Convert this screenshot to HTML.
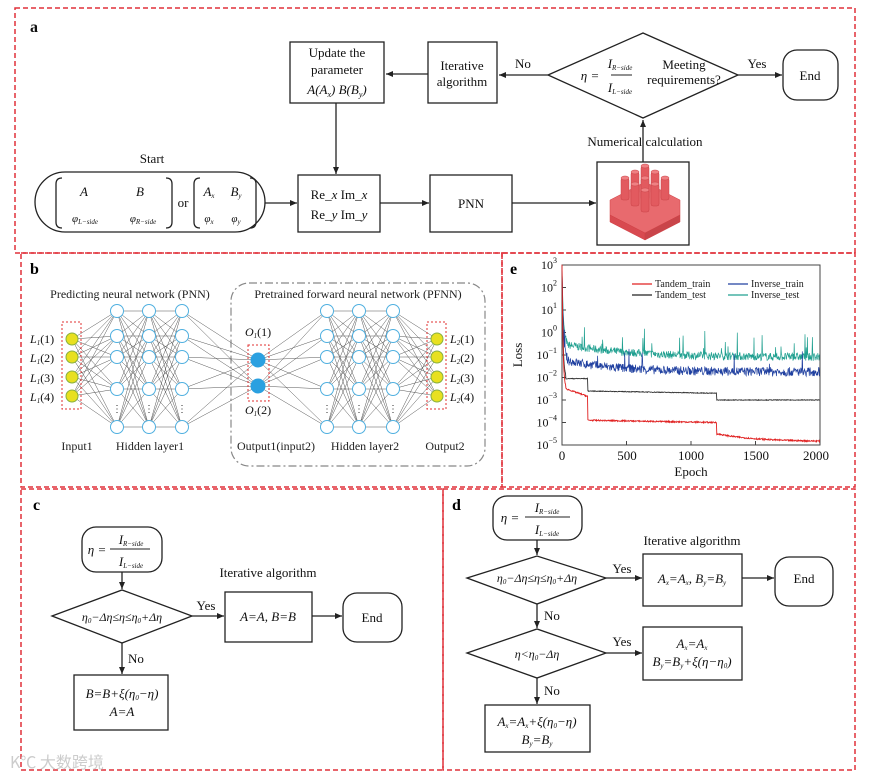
<!DOCTYPE html>
<html><head><meta charset="utf-8">
<style>
html,body{margin:0;padding:0;background:#fff;}
svg{display:block;font-family:"Liberation Serif",serif;}
</style></head>
<body>
<svg id="s" width="875" height="780" viewBox="0 0 875 780" xmlns="http://www.w3.org/2000/svg">
<defs>
<marker id="ar" markerWidth="8" markerHeight="8" refX="7" refY="4" orient="auto" markerUnits="userSpaceOnUse">
<path d="M0,1 L7,4 L0,7 z" fill="#222"/></marker>
</defs>
<g fill="none" stroke="#e0303a" stroke-width="1.5" stroke-dasharray="5,3">
<rect x="15" y="8" width="840" height="245"/>
<rect x="21" y="253" width="481" height="234"/>
<rect x="502" y="253" width="353" height="234"/>
<rect x="21" y="489" width="422" height="281"/>
<rect x="443" y="489" width="412" height="281"/>
</g>

<!-- Panel a -->
<g font-size="13" fill="#111">
<text x="30" y="32" font-weight="bold" font-size="16">a</text>
</g>
<g fill="none" stroke="#222" stroke-width="1.3">
<rect x="290" y="42" width="94" height="61"/>
<rect x="428" y="42" width="69" height="61"/>
<path d="M548,75 L643,33 L738,75 L643,118 Z"/>
<rect x="783" y="50" width="55" height="50" rx="14"/>
<rect x="597" y="162" width="92" height="83"/>
<rect x="35" y="172" width="230" height="60" rx="30"/>
<rect x="298" y="175" width="82" height="57"/>
<rect x="430" y="175" width="82" height="57"/>
<line x1="428" y1="74" x2="386" y2="74" marker-end="url(#ar)"/>
<line x1="548" y1="75" x2="499" y2="75" marker-end="url(#ar)"/>
<line x1="738" y1="75" x2="782" y2="75" marker-end="url(#ar)"/>
<line x1="643" y1="162" x2="643" y2="120" marker-end="url(#ar)"/>
<line x1="336" y1="103" x2="336" y2="174" marker-end="url(#ar)"/>
<line x1="265" y1="203" x2="297" y2="203" marker-end="url(#ar)"/>
<line x1="380" y1="203" x2="429" y2="203" marker-end="url(#ar)"/>
<line x1="512" y1="203" x2="596" y2="203" marker-end="url(#ar)"/>
<!-- matrix brackets -->
<path d="M62,178 q-6,0 -6,6 v38 q0,6 6,6" />
<path d="M166,178 q6,0 6,6 v38 q0,6 -6,6" />
<path d="M200,178 q-6,0 -6,6 v38 q0,6 6,6" />
<path d="M250,178 q6,0 6,6 v38 q0,6 -6,6" />
</g>
<g font-size="13" fill="#111" text-anchor="middle">
<text x="337" y="57">Update the</text>
<text x="337" y="74">parameter</text>
<text x="337" y="94" font-style="italic">A(A<tspan font-size="8" dy="3">x</tspan><tspan dy="-3">) B(B</tspan><tspan font-size="8" dy="3">y</tspan><tspan dy="-3">)</tspan></text>
<text x="462" y="70">Iterative</text>
<text x="462" y="86">algorithm</text>
<text x="523" y="68">No</text>
<text x="757" y="68">Yes</text>
<text x="810" y="80">End</text>
<text x="590" y="80" font-style="italic">η =</text>
<text x="620" y="68" font-style="italic">I<tspan font-size="7" dy="2">R−side</tspan></text>
<text x="620" y="92" font-style="italic">I<tspan font-size="7" dy="2">L−side</tspan></text>
<text x="684" y="69">Meeting</text>
<text x="684" y="84">requirements?</text>
<text x="645" y="146">Numerical calculation</text>
<text x="152" y="163">Start</text>
<text x="84" y="196" font-style="italic">A</text>
<text x="140" y="196" font-style="italic">B</text>
<text x="85" y="222" font-style="italic" font-size="11">φ<tspan font-size="7" dy="2">L−side</tspan></text>
<text x="143" y="222" font-style="italic" font-size="11">φ<tspan font-size="7" dy="2">R−side</tspan></text>
<text x="183" y="207">or</text>
<text x="209" y="196" font-style="italic">A<tspan font-size="7" dy="2">x</tspan></text>
<text x="236" y="196" font-style="italic">B<tspan font-size="7" dy="2">y</tspan></text>
<text x="209" y="222" font-style="italic" font-size="11">φ<tspan font-size="7" dy="2">x</tspan></text>
<text x="236" y="222" font-style="italic" font-size="11">φ<tspan font-size="7" dy="2">y</tspan></text>
<text x="339" y="199">Re_<tspan font-style="italic">x</tspan> Im_<tspan font-style="italic">x</tspan></text>
<text x="339" y="219">Re_<tspan font-style="italic">y</tspan> Im_<tspan font-style="italic">y</tspan></text>
<text x="471" y="208">PNN</text>
</g>
<line x1="611" y1="75" x2="632" y2="75" stroke="#222"/>
<!-- 3D red block -->
<g fill="#e0555a" stroke="#d04045" stroke-width="0.5">
<path d="M610,200 L645,182 L680,200 L680,215 L645,233 L610,215 Z" fill="#e86a6e"/>
<path d="M610,215 L645,233 L645,240 L610,222 Z" fill="#d84a50"/>
<path d="M645,233 L680,215 L680,222 L645,240 Z" fill="#c9454a"/>
</g>
<g id="pillars" fill="#e25a5f" stroke="#c94348" stroke-width="0.5"></g>

<!-- Panel b -->
<text x="30" y="274" font-weight="bold" font-size="16">b</text>
<rect x="231" y="283" width="254" height="183" rx="18" fill="none" stroke="#888" stroke-width="1.2" stroke-dasharray="8,3,2,3"/>
<g font-size="12" fill="#222" text-anchor="middle">
<text x="130" y="298">Predicting neural network (PNN)</text>
<text x="358" y="298">Pretrained forward neural network (PFNN)</text>
<text x="77" y="450">Input1</text>
<text x="150" y="450">Hidden layer1</text>
<text x="276" y="450">Output1(input2)</text>
<text x="365" y="450">Hidden layer2</text>
<text x="445" y="450">Output2</text>
</g>
<g id="nn"></g>
<g fill="none" stroke="#e03030" stroke-width="1" stroke-dasharray="2,2">
<rect x="62" y="322" width="19" height="87"/>
<rect x="248" y="345" width="21" height="56"/>
<rect x="427" y="322" width="19" height="87"/>
</g>
<g font-size="12" fill="#111" font-style="italic">
<text x="30" y="343">L<tspan font-size="7" dy="2">1</tspan><tspan dy="-2" font-style="normal">(1)</tspan></text>
<text x="30" y="362">L<tspan font-size="7" dy="2">1</tspan><tspan dy="-2" font-style="normal">(2)</tspan></text>
<text x="30" y="382">L<tspan font-size="7" dy="2">1</tspan><tspan dy="-2" font-style="normal">(3)</tspan></text>
<text x="30" y="401">L<tspan font-size="7" dy="2">1</tspan><tspan dy="-2" font-style="normal">(4)</tspan></text>
<text x="450" y="343">L<tspan font-size="7" dy="2">2</tspan><tspan dy="-2" font-style="normal">(1)</tspan></text>
<text x="450" y="362">L<tspan font-size="7" dy="2">2</tspan><tspan dy="-2" font-style="normal">(2)</tspan></text>
<text x="450" y="382">L<tspan font-size="7" dy="2">2</tspan><tspan dy="-2" font-style="normal">(3)</tspan></text>
<text x="450" y="401">L<tspan font-size="7" dy="2">2</tspan><tspan dy="-2" font-style="normal">(4)</tspan></text>
<text x="245" y="336">O<tspan font-size="7" dy="2">1</tspan><tspan dy="-2" font-style="normal">(1)</tspan></text>
<text x="245" y="414">O<tspan font-size="7" dy="2">1</tspan><tspan dy="-2" font-style="normal">(2)</tspan></text>
</g>

<!-- Panel e -->
<text x="510" y="274" font-weight="bold" font-size="16">e</text>
<rect x="562" y="265" width="258" height="180" fill="none" stroke="#444" stroke-width="1"/>
<g id="plot"></g>
<g font-size="12" fill="#111" text-anchor="end" id="ylab"></g>
<g font-size="13" fill="#111" text-anchor="middle">
<text x="562" y="460">0</text><text x="627" y="460">500</text><text x="691" y="460">1000</text><text x="756" y="460">1500</text><text x="816" y="460">2000</text>
<text x="691" y="476">Epoch</text>
<text transform="translate(522,355) rotate(-90)">Loss</text>
</g>
<g font-size="10" fill="#222">
<line x1="632" y1="284" x2="652" y2="284" stroke="#e02020" stroke-width="1.3"/><text x="655" y="287">Tandem_train</text>
<line x1="632" y1="295" x2="652" y2="295" stroke="#222" stroke-width="1.3"/><text x="655" y="298">Tandem_test</text>
<line x1="728" y1="284" x2="748" y2="284" stroke="#2040a0" stroke-width="1.3"/><text x="751" y="287">Inverse_train</text>
<line x1="728" y1="295" x2="748" y2="295" stroke="#20a090" stroke-width="1.3"/><text x="751" y="298">Inverse_test</text>
</g>

<!-- Panel c -->
<text x="33" y="510" font-weight="bold" font-size="16">c</text>
<g fill="none" stroke="#222" stroke-width="1.3">
<rect x="82" y="527" width="80" height="45" rx="14"/>
<path d="M52,616 L122,590 L192,616 L122,643 Z"/>
<rect x="225" y="592" width="87" height="50"/>
<rect x="343" y="593" width="59" height="49" rx="14"/>
<rect x="74" y="675" width="94" height="55"/>
<line x1="122" y1="572" x2="122" y2="589" marker-end="url(#ar)"/>
<line x1="192" y1="616" x2="224" y2="616" marker-end="url(#ar)"/>
<line x1="312" y1="616" x2="342" y2="616" marker-end="url(#ar)"/>
<line x1="122" y1="643" x2="122" y2="674" marker-end="url(#ar)"/>
<line x1="110" y1="549" x2="150" y2="549" stroke-width="1"/>
</g>
<g font-size="13" fill="#111" text-anchor="middle" font-style="italic">
<text x="97" y="554">η =</text>
<text x="131" y="544">I<tspan font-size="7" dy="2">R−side</tspan></text>
<text x="131" y="566">I<tspan font-size="7" dy="2">L−side</tspan></text>
<text x="122" y="621" font-size="12">η<tspan font-size="7" dy="2">0</tspan><tspan dy="-2">−Δη≤η≤η</tspan><tspan font-size="7" dy="2">0</tspan><tspan dy="-2">+Δη</tspan></text>
<text x="268" y="621">A=A, B=B</text>
<text x="122" y="698">B=B+ξ(η<tspan font-size="7" dy="2">0</tspan><tspan dy="-2">−η)</tspan></text>
<text x="122" y="716">A=A</text>
</g>
<g font-size="13" fill="#111" text-anchor="middle">
<text x="206" y="610">Yes</text>
<text x="372" y="622">End</text>
<text x="268" y="577">Iterative algorithm</text>
<text x="136" y="663">No</text>
</g>
<text x="10" y="768" font-family="'Noto Sans CJK SC',sans-serif" font-size="16" fill="#ccc">K℃ 大数跨境</text>

<!-- Panel d -->
<text x="452" y="510" font-weight="bold" font-size="16">d</text>
<g fill="none" stroke="#222" stroke-width="1.3">
<rect x="493" y="496" width="89" height="44" rx="14"/>
<path d="M467,578 L537,556 L606,578 L537,604 Z"/>
<rect x="643" y="554" width="99" height="52"/>
<rect x="775" y="557" width="58" height="49" rx="14"/>
<path d="M467,653 L537,629 L606,653 L537,678 Z"/>
<rect x="643" y="627" width="99" height="53"/>
<rect x="485" y="705" width="105" height="47"/>
<line x1="537" y1="540" x2="537" y2="555" marker-end="url(#ar)"/>
<line x1="606" y1="578" x2="642" y2="578" marker-end="url(#ar)"/>
<line x1="742" y1="578" x2="774" y2="578" marker-end="url(#ar)"/>
<line x1="537" y1="604" x2="537" y2="628" marker-end="url(#ar)"/>
<line x1="606" y1="653" x2="642" y2="653" marker-end="url(#ar)"/>
<line x1="537" y1="678" x2="537" y2="704" marker-end="url(#ar)"/>
<line x1="525" y1="517" x2="570" y2="517" stroke-width="1"/>
</g>
<g font-size="13" fill="#111" text-anchor="middle" font-style="italic">
<text x="510" y="522">η =</text>
<text x="547" y="512">I<tspan font-size="7" dy="2">R−side</tspan></text>
<text x="547" y="534">I<tspan font-size="7" dy="2">L−side</tspan></text>
<text x="537" y="582" font-size="12">η<tspan font-size="7" dy="2">0</tspan><tspan dy="-2">−Δη≤η≤η</tspan><tspan font-size="7" dy="2">0</tspan><tspan dy="-2">+Δη</tspan></text>
<text x="692" y="583">A<tspan font-size="7" dy="2">x</tspan><tspan dy="-2">=A</tspan><tspan font-size="7" dy="2">x</tspan><tspan dy="-2">, B</tspan><tspan font-size="7" dy="2">y</tspan><tspan dy="-2">=B</tspan><tspan font-size="7" dy="2">y</tspan></text>
<text x="537" y="658" font-size="12">η&lt;η<tspan font-size="7" dy="2">0</tspan><tspan dy="-2">−Δη</tspan></text>
<text x="692" y="648">A<tspan font-size="7" dy="2">x</tspan><tspan dy="-2">=A</tspan><tspan font-size="7" dy="2">x</tspan></text>
<text x="692" y="666">B<tspan font-size="7" dy="2">y</tspan><tspan dy="-2">=B</tspan><tspan font-size="7" dy="2">y</tspan><tspan dy="-2">+ξ(η−η</tspan><tspan font-size="7" dy="2">0</tspan><tspan dy="-2">)</tspan></text>
<text x="537" y="726">A<tspan font-size="7" dy="2">x</tspan><tspan dy="-2">=A</tspan><tspan font-size="7" dy="2">x</tspan><tspan dy="-2">+ξ(η</tspan><tspan font-size="7" dy="2">0</tspan><tspan dy="-2">−η)</tspan></text>
<text x="537" y="744">B<tspan font-size="7" dy="2">y</tspan><tspan dy="-2">=B</tspan><tspan font-size="7" dy="2">y</tspan></text>
</g>
<g font-size="13" fill="#111" text-anchor="middle">
<text x="622" y="573">Yes</text>
<text x="804" y="583">End</text>
<text x="692" y="545">Iterative algorithm</text>
<text x="552" y="620">No</text>
<text x="622" y="646">Yes</text>
<text x="552" y="695">No</text>
</g>
</svg>
<script>
var NS="http://www.w3.org/2000/svg";
function el(p,t,a){var e=document.createElementNS(NS,t);for(var k in a)e.setAttribute(k,a[k]);p.appendChild(e);return e;}
var pg=document.getElementById('pillars');
var pts=[];
for(var r=0;r<3;r++)for(var c=0;c<3;c++){pts.push([645+(c-r)*10, 188+(c+r)*6]);}
pts.sort(function(a,b){return a[1]-b[1];});
pts.forEach(function(p){var h=22;el(pg,'rect',{x:p[0]-4,y:p[1]-h,width:8,height:h,rx:2});el(pg,'ellipse',{cx:p[0],cy:p[1]-h,rx:4,ry:2,fill:'#ef8083'});});
var nn=document.getElementById('nn');
var io=[339,357,377,396], hid=[311,336,357,389,427];
var layers=[[72,io,'y'],[117,hid,'h'],[149,hid,'h'],[182,hid,'h'],[258,[360,386],'b'],[327,hid,'h'],[359,hid,'h'],[393,hid,'h'],[437,io,'y']];
var lg=el(nn,'g',{stroke:'#555','stroke-width':'0.5'});
for(var i=0;i<layers.length-1;i++){var A=layers[i],B=layers[i+1];A[1].forEach(function(y1){B[1].forEach(function(y2){el(lg,'line',{x1:A[0],y1:y1,x2:B[0],y2:y2});});});}
layers.forEach(function(L){L[1].forEach(function(y){
 if(L[2]=='y')el(nn,'circle',{cx:L[0],cy:y,r:6,fill:'#e8e020',stroke:'#88b040','stroke-width':1});
 else if(L[2]=='b')el(nn,'circle',{cx:L[0],cy:y,r:7,fill:'#2ba0e0',stroke:'#2ba0e0'});
 else el(nn,'circle',{cx:L[0],cy:y,r:6.5,fill:'#fff',stroke:'#50b0e0','stroke-width':1});
}); if(L[2]=='h'){var t=el(nn,'text',{x:L[0],y:412,'font-size':10,'text-anchor':'middle',fill:'#333'});t.textContent='⋮';}});
var yl=document.getElementById('ylab');
var exps=['3','2','1','0','-1','-2','-3','-4','-5'];
function Y(e){return 265+(3-e)*22.5;}
function X(ep){return 562+ep*258/2000;}
exps.forEach(function(e,i){var t=el(yl,'text',{x:557,y:Y(3-i)+4});t.textContent='10';var s=el(t,'tspan',{'font-size':8,dy:-6});s.textContent=e.replace('-','−');
 el(document.getElementById('plot'),'line',{x1:562,y1:Y(3-i),x2:566,y2:Y(3-i),stroke:'#444'});});
var pl=document.getElementById('plot');
var seed=7;function rnd(){seed=(seed*16807)%2147483647;return seed/2147483647;}
function curve(f,noise,col,sw,spk){var d='';for(var ep=0;ep<=2000;ep+=3){var v=f(ep)+(rnd()-0.5)*noise;if(spk&&rnd()<spk)v+=rnd()*1.0;d+=(ep?'L':'M')+X(ep).toFixed(1)+','+Y(v).toFixed(1);}el(pl,'path',{d:d,fill:'none',stroke:col,'stroke-width':sw});}
function dec(ep,a,b,k){return b+(a-b)*Math.exp(-ep/k);}
curve(function(ep){return ep<40?dec(ep,3,-0.5,10):dec(ep,-0.5,-1.1,500);},0.35,'#20a090',0.7,0.04);
curve(function(ep){return ep<40?dec(ep,3,-1.2,10):dec(ep,-1.2,-1.75,400);},0.4,'#2040a0',0.7,0.01);
curve(function(ep){if(ep<200)return ep<30?dec(ep,3,-2,8):-2.05;if(ep<1200)return -2.6-(ep-200)*0.0001;return -3;},0.03,'#333',0.9,0);
curve(function(ep){if(ep<200)return ep<30?dec(ep,3,-2.5,8):-2.5-(ep-30)*0.002;if(ep<1200)return -3.9-(ep-200)*0.0001;return dec(ep-1200,-4.5,-4.85,300);},0.06,'#e02020',0.9,0);
[500,1000,1500].forEach(function(e){el(pl,'line',{x1:X(e),y1:445,x2:X(e),y2:441,stroke:'#444'});});
</script>
</body></html>
